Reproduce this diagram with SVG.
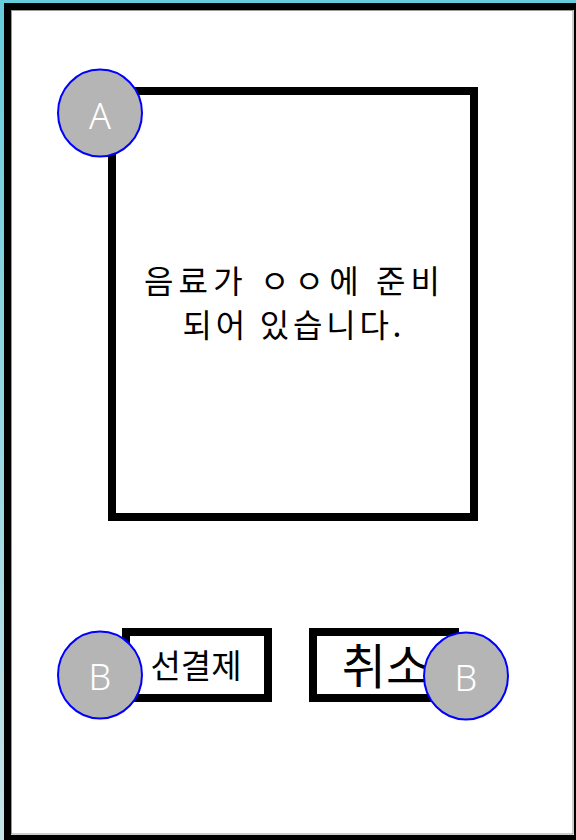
<svg xmlns="http://www.w3.org/2000/svg" width="576" height="840" viewBox="0 0 576 840">
  <defs>
    <linearGradient id="bg" x1="0" y1="0" x2="0" y2="1">
      <stop offset="0" stop-color="#66cbdc"/>
      <stop offset="1" stop-color="#c6e4e8"/>
    </linearGradient>
    <style>
      .box { fill: #ffffff; stroke: #000000; stroke-width: 8; }
      .badge { fill: #b5b5b5; stroke: #0000ff; stroke-width: 2; }
      .badge-text { fill: #ffffff; font-family: "Noto Sans", "Liberation Sans", sans-serif; font-size: 36px; font-weight: 300; text-anchor: middle; }
      .ko { fill: #000000; font-family: "Noto Sans CJK KR", "Noto Sans", sans-serif; text-anchor: middle; }
    </style>
  </defs>
  <rect x="0" y="0" width="576" height="840" fill="url(#bg)"/>
  <g id="frame">
    <rect x="7.5" y="6.5" width="570" height="832" fill="#ffffff" stroke="#000000" stroke-width="7"/>
    <rect x="11.5" y="10.5" width="561.5" height="823.5" fill="none" stroke="#9a9a9a" stroke-width="1"/>
  </g>
  <g id="screen">
    <rect class="box" x="112" y="91" width="362" height="426"/>
    <text class="ko" x="292" y="293" font-size="32" textLength="296" lengthAdjust="spacing">음료가 ㅇㅇ에 준비</text>
    <text class="ko" x="292" y="337" font-size="32" textLength="219" lengthAdjust="spacing">되어 있습니다.</text>
  </g>
  <g id="btn-prepay">
    <rect class="box" x="126" y="632" width="142" height="66"/>
    <text class="ko" x="196" y="678" font-size="33">선결제</text>
  </g>
  <g id="btn-cancel">
    <rect class="box" x="313" y="632" width="142" height="66"/>
    <text class="ko" x="386" y="684" font-size="48">취소</text>
  </g>
  <g id="badge-a">
    <ellipse class="badge" cx="100" cy="113" rx="42" ry="43.5"/>
    <text class="badge-text" x="100" y="129">A</text>
  </g>
  <g id="badge-b1">
    <ellipse class="badge" cx="100" cy="675" rx="42" ry="43.5"/>
    <text class="badge-text" x="100" y="690">B</text>
  </g>
  <g id="badge-b2">
    <ellipse class="badge" cx="466" cy="676" rx="42" ry="43.5"/>
    <text class="badge-text" x="466" y="691">B</text>
  </g>
  <g id="connectors"/>
</svg>
